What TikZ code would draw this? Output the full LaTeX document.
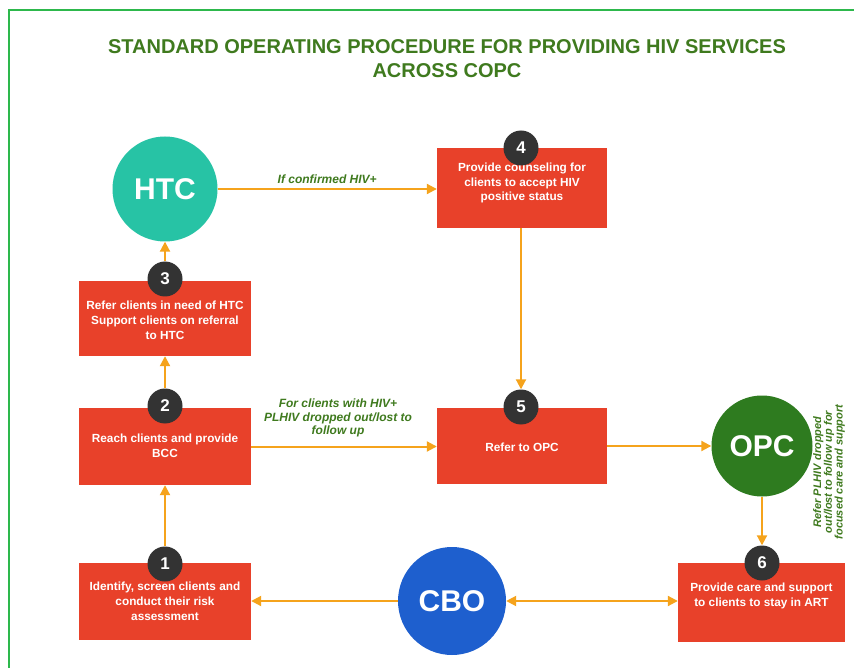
\documentclass[tikz,border=0pt]{standalone}
\usepackage{fontspec}
\setmainfont{Liberation Sans}
\usetikzlibrary{arrows.meta}
\definecolor{framegreen}{HTML}{2DB84C}
\definecolor{titlegreen}{HTML}{3F7A1E}
\definecolor{boxred}{HTML}{E8412A}
\definecolor{badgegray}{HTML}{333333}
\definecolor{flow}{HTML}{F5A31C}
\definecolor{htcteal}{HTML}{27C3A5}
\definecolor{opcgreen}{HTML}{2E7B1F}
\definecolor{cboblue}{HTML}{1E5FCE}
\tikzset{
  stepbox/.style={fill=boxred, minimum width=172pt, inner sep=0pt},
  boxtext/.style={text=white, font=\bfseries\fontsize{11.8}{14.8}\selectfont, align=center},
  badge/.style={circle, fill=badgegray, minimum size=35pt, inner sep=0pt,
    text=white, font=\bfseries\fontsize{17}{17}\selectfont},
  hub/.style={circle, minimum size=#1, inner sep=0pt, text=white,
    font=\bfseries\fontsize{30}{30}\selectfont},
  flowline/.style={draw=flow, line width=2pt, -{Triangle[length=10pt,width=10pt]}},
  note/.style={text=titlegreen, font=\bfseries\itshape\fontsize{12}{13.5}\selectfont, align=center},
}
\begin{document}
\begin{tikzpicture}[x=1pt,y=-1pt]
\useasboundingbox (0,0) rectangle (854,668);
\fill[white] (0,0) rectangle (854,668);
% outer frame
\draw[framegreen, line width=2pt] (870,10) -- (9,10) -- (9,680);

% title
\node[text=titlegreen, font=\bfseries\fontsize{20}{24}\selectfont, align=center] (title) at (447,59)
  {STANDARD OPERATING PROCEDURE FOR PROVIDING HIV SERVICES\\ACROSS COPC};

% hubs
\node[hub=105pt, fill=htcteal] (htc) at (165,189) {HTC};
\node[hub=101pt, fill=opcgreen] (opc) at (762,446) {OPC};
\node[hub=108pt, fill=cboblue] (cbo) at (452,601) {CBO};

% step boxes
\node[stepbox, minimum height=75pt] (s3) at (165,318.5) {};
\node[stepbox, minimum height=77pt] (s2) at (165,446.5) {};
\node[stepbox, minimum height=77pt] (s1) at (165,601.5) {};
\node[stepbox, minimum width=170pt, minimum height=80pt] (s4) at (522,188) {};
\node[stepbox, minimum width=170pt, minimum height=76pt] (s5) at (522,446) {};
\node[stepbox, minimum width=167pt, minimum height=79pt] (s6) at (761.5,602.5) {};

\node[boxtext] at (165,320) {Refer clients in need of HTC\\Support clients on referral\\to HTC};
\node[boxtext] at (165,446) {Reach clients and provide\\BCC};
\node[boxtext] at (165,601) {Identify, screen clients and\\conduct their risk\\assessment};
\node[boxtext] at (522,183) {Provide counseling for\\clients to accept HIV\\positive status};
\node[boxtext] at (522,447) {Refer to OPC};
\node[boxtext] at (761.5,596) {Provide care and support\\to clients to stay in ART};

% numbered badges
\node[badge] (b3) at (165,279) {3};
\node[badge] (b2) at (165,406) {2};
\node[badge] (b1) at (165,564) {1};
\node[badge] (b4) at (521,148) {4};
\node[badge] (b5) at (521,407) {5};
\node[badge] (b6) at (762,563) {6};

% connectors
\draw[flowline] (htc.east) -- node[note, above=1pt] {If confirmed HIV+} (htc.east -| s4.west);
\draw[flowline] (b3.north) -- (htc.south);
\draw[flowline] (b2.north) -- (s3.south);
\draw[flowline] (b1.north) -- (s2.south);
\draw[flowline] (s4.south -| b5.north) -- (b5.north);
\draw[flowline] (s2.east) -- (s2.east -| s5.west);
\node[note] (lbl2) at (338,418) {For clients with HIV+\\PLHIV dropped out/lost to\\follow up};
\draw[flowline] (s5.east) -- (s5.east -| opc.west);
\draw[flowline] (opc.south) -- (b6.north);
\node[note, rotate=90, font=\bfseries\itshape\fontsize{11}{10.8}\selectfont] (lbl6) at (829,472)
  {Refer PLHIV dropped\\out/lost to follow up for\\focused care and support};
\draw[flowline] (cbo.west) -- (cbo.west -| s1.east);
\draw[flowline, {Triangle[length=10pt,width=10pt]}-{Triangle[length=10pt,width=10pt]}] (cbo.east) -- (cbo.east -| s6.west);
\end{tikzpicture}
\end{document}
